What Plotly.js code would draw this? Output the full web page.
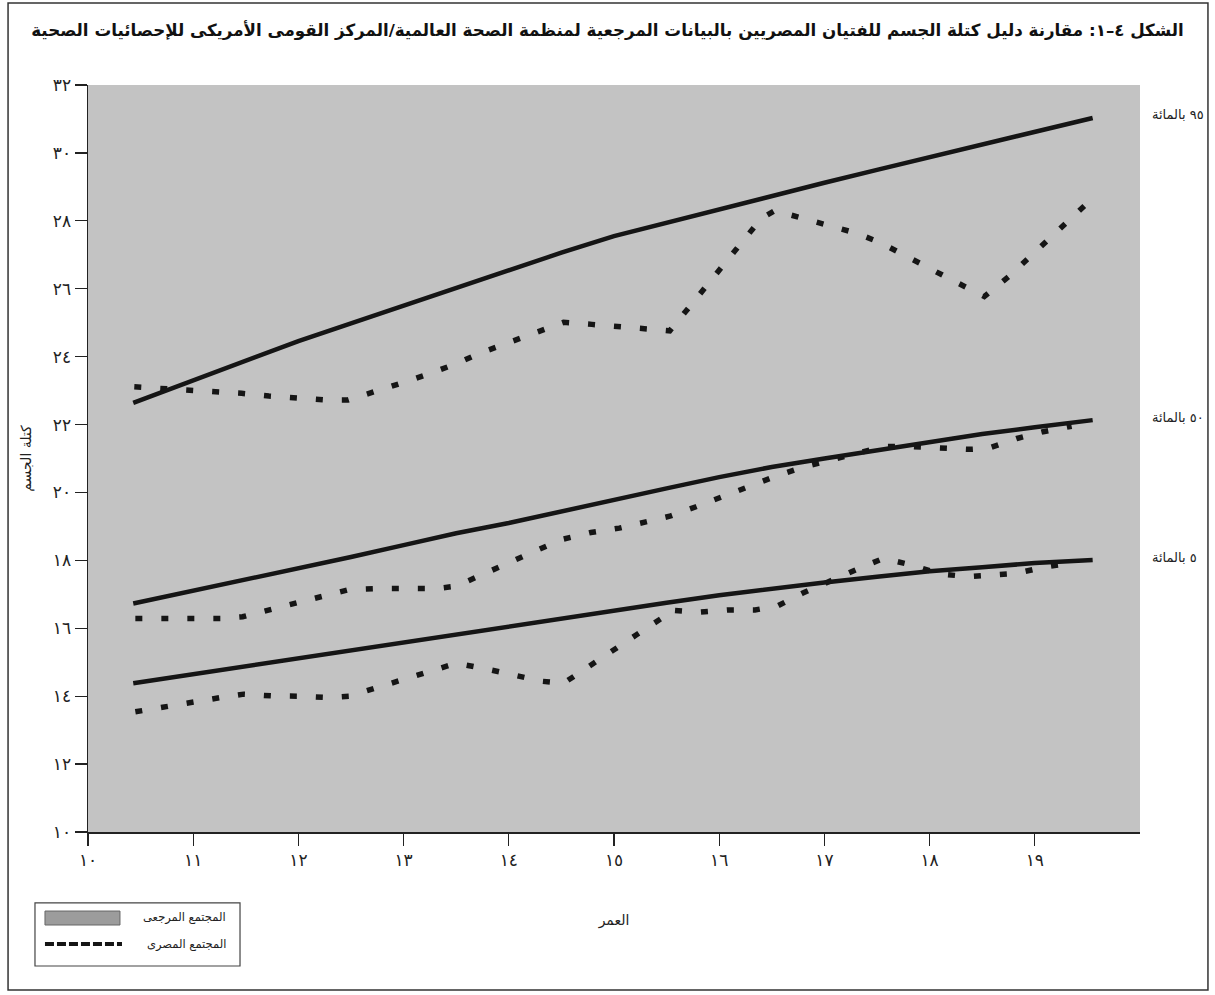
<!DOCTYPE html>
<html>
<head>
<meta charset="utf-8">
<script src="https://cdn.plot.ly/plotly-3.0.1.min.js"></script>
<style>html,body{margin:0;padding:0;background:#fff;}#chart{width:1215px;height:995px;}</style>
</head>
<body>
<div id="chart"></div>
<script>
// ---- data ----
const refAges = [10.43, 11, 11.5, 12, 12.5, 13, 13.5, 14, 14.5, 15, 15.5, 16, 16.5, 17, 17.5, 18, 18.5, 19, 19.55];
const ref95 = [22.64, 23.3, 23.88, 24.46, 24.98, 25.5, 26.02, 26.55, 27.06, 27.55, 27.95, 28.35, 28.75, 29.12, 29.5, 29.88, 30.25, 30.62, 31.03];
const ref50 = [16.73, 17.1, 17.45, 17.78, 18.1, 18.45, 18.8, 19.1, 19.45, 19.8, 20.12, 20.45, 20.75, 21.0, 21.25, 21.5, 21.72, 21.92, 22.13];
const ref5  = [14.38, 14.65, 14.88, 15.12, 15.35, 15.58, 15.82, 16.05, 16.3, 16.52, 16.75, 16.97, 17.17, 17.35, 17.52, 17.68, 17.8, 17.92, 18.01];

const egy95Ages = [10.44, 10.98, 11.25, 11.46, 11.72, 11.99, 12.27, 12.47, 12.74, 13.0, 13.24, 13.49, 13.75, 14.0, 14.27, 14.52, 14.79, 15.07, 15.34, 15.53, 15.71, 15.88, 16.05, 16.24, 16.4, 16.53, 16.78, 17.04, 17.31, 17.53, 17.77, 18.03, 18.26, 18.52, 18.75, 18.95, 19.15, 19.35, 19.54];
const egy95 = [23.11, 23.02, 22.95, 22.92, 22.84, 22.77, 22.72, 22.72, 22.97, 23.24, 23.49, 23.78, 24.13, 24.42, 24.72, 25.01, 24.95, 24.88, 24.8, 24.76, 25.44, 26.08, 26.73, 27.41, 28.07, 28.3, 28.09, 27.88, 27.63, 27.36, 26.96, 26.55, 26.18, 25.77, 26.35, 26.93, 27.51, 28.1, 28.64];

const egy50Ages = [10.45, 10.73, 11.0, 11.27, 11.47, 11.73, 12.0, 12.27, 12.48, 12.76, 13.03, 13.31, 13.5, 13.75, 13.99, 14.24, 14.51, 14.78, 15.05, 15.32, 15.53, 15.78, 16.04, 16.29, 16.54, 16.8, 17.05, 17.3, 17.56, 17.83, 18.1, 18.38, 18.56, 18.83, 19.08, 19.35];
const egy50 = [16.29, 16.29, 16.29, 16.29, 16.34, 16.55, 16.76, 16.98, 17.14, 17.17, 17.17, 17.17, 17.24, 17.57, 17.91, 18.26, 18.62, 18.82, 18.95, 19.14, 19.3, 19.58, 19.89, 20.19, 20.48, 20.75, 20.95, 21.15, 21.35, 21.35, 21.32, 21.27, 21.3, 21.59, 21.79, 21.95];

const egy5Ages = [10.45, 10.73, 10.99, 11.26, 11.48, 11.74, 12.01, 12.29, 12.48, 12.75, 13.01, 13.27, 13.5, 13.79, 14.04, 14.31, 14.52, 14.74, 14.98, 15.21, 15.45, 15.51, 15.8, 16.08, 16.34, 16.55, 16.79, 17.05, 17.29, 17.56, 17.83, 18.1, 18.37, 18.83, 19.1, 19.3];
const egy5 = [13.54, 13.69, 13.84, 13.96, 14.06, 14.01, 14.0, 13.96, 14.0, 14.26, 14.52, 14.77, 14.97, 14.8, 14.64, 14.44, 14.38, 14.82, 15.33, 15.8, 16.29, 16.54, 16.47, 16.54, 16.54, 16.65, 17.03, 17.4, 17.71, 18.06, 17.86, 17.6, 17.52, 17.62, 17.81, 17.9];

const xTickVals = [10, 11, 12, 13, 14, 15, 16, 17, 18, 19];
const xTickText = ['١٠', '١١', '١٢', '١٣', '١٤', '١٥', '١٦', '١٧', '١٨', '١٩'];
const yTickVals = [10, 12, 14, 16, 18, 20, 22, 24, 26, 28, 30, 32];
const yTickText = ['١٠', '١٢', '١٤', '١٦', '١٨', '٢٠', '٢٢', '٢٤', '٢٦', '٢٨', '٣٠', '٣٢'];
const percentileLabels = ['٩٥ بالمائة', '٥٠ بالمائة', '٥ بالمائة'];
const legendNames = ['المجتمع المرجعى', 'المجتمع المصرى'];
const titleText = 'الشكل ٤–١: مقارنة دليل كتلة الجسم للفتيان المصريين بالبيانات المرجعية لمنظمة الصحة العالمية/المركز القومى الأمريكى للإحصائيات الصحية';
const xTitle = 'العمر';
const yTitle = 'كتلة الجسم';

const FONT = 'DejaVu Sans, Noto Sans, sans-serif';
const INK = '#151515';

const solid = {color: INK, width: 4.5};
const dotted = {color: INK, width: 5.5, dash: '7px,19px'};

const traces = [
  {x: egy95Ages, y: egy95, mode: 'lines', line: dotted, name: legendNames[1]},
  {x: egy50Ages, y: egy50, mode: 'lines', line: dotted, name: legendNames[1]},
  {x: egy5Ages, y: egy5, mode: 'lines', line: dotted, name: legendNames[1]},
  {x: refAges, y: ref95, mode: 'lines', line: solid, name: legendNames[0]},
  {x: refAges, y: ref50, mode: 'lines', line: solid, name: legendNames[0]},
  {x: refAges, y: ref5, mode: 'lines', line: solid, name: legendNames[0]}
];

const refSeries = [ref95, ref50, ref5];
const annotations = refSeries.map((s, i) => ({
  xref: 'paper', x: 1.0095, xanchor: 'left',
  yref: 'y', y: s[s.length - 1], yanchor: 'middle', yshift: 3,
  text: percentileLabels[i], showarrow: false,
  font: {family: FONT, size: 13, color: '#222'}
}));
// custom legend texts
annotations.push({xref: 'paper', x: 0.1331, xanchor: 'right', yref: 'paper', y: -0.1151, yanchor: 'middle',
  text: legendNames[0], showarrow: false, font: {family: FONT, size: 11.5, color: '#222'}});
annotations.push({xref: 'paper', x: 0.1331, xanchor: 'right', yref: 'paper', y: -0.150, yanchor: 'middle',
  text: legendNames[1], showarrow: false, font: {family: FONT, size: 11.5, color: '#222'}});

const shapes = [
  // outer frame
  {type: 'rect', xref: 'paper', yref: 'paper', x0: -0.076, x1: 1.0646, y0: -0.2115, y1: 1.1098,
   line: {color: '#333', width: 1.5}, fillcolor: 'rgba(0,0,0,0)', layer: 'below'},
  // legend box
  {type: 'rect', xref: 'paper', yref: 'paper', x0: -0.0504, x1: 0.1445, y0: -0.1794, y1: -0.095,
   line: {color: '#444', width: 1.2}, fillcolor: 'rgba(0,0,0,0)'},
  // legend swatch: reference (gray bar)
  {type: 'rect', xref: 'paper', yref: 'paper', x0: -0.0409, x1: 0.0304, y0: -0.1245, y1: -0.1058,
   line: {color: '#666', width: 1}, fillcolor: '#9c9c9c'},
  // legend swatch: Egyptian (dashed)
  {type: 'line', xref: 'paper', yref: 'paper', x0: -0.0409, x1: 0.0323, y0: -0.150, y1: -0.150,
   line: {color: INK, width: 4, dash: '9px,3px'}}
];

const layout = {
  width: 1215, height: 995,
  margin: {l: 88, r: 75, t: 85, b: 163},
  paper_bgcolor: '#ffffff',
  plot_bgcolor: '#c3c3c3',
  showlegend: false,
  font: {family: FONT, color: '#222'},
  title: {text: titleText, font: {family: FONT, size: 16.7, weight: 'bold', color: '#111'}, x: 0.5, xanchor: 'center', xref: 'container',
          y: 0.97, yanchor: 'middle', yref: 'container'},
  xaxis: {
    range: [10, 20], tickvals: xTickVals, ticktext: xTickText,
    ticks: 'outside', ticklen: 12, tickwidth: 1.2, tickcolor: '#222',
    showgrid: false, zeroline: false, showline: true, linecolor: '#222', linewidth: 2,
    tickfont: {family: FONT, size: 17, color: '#222'},
    title: {text: xTitle, font: {family: FONT, size: 14, color: '#222'}, standoff: 46},
    fixedrange: true
  },
  yaxis: {
    range: [10, 32], tickvals: yTickVals, ticktext: yTickText,
    ticks: 'outside', ticklen: 12, tickwidth: 1.2, tickcolor: '#222',
    showgrid: false, zeroline: false, showline: true, linecolor: '#222', linewidth: 1.5,
    tickfont: {family: FONT, size: 17, color: '#222'},
    title: {text: yTitle, font: {family: FONT, size: 14, color: '#222'}, standoff: 18},
    fixedrange: true
  },
  xaxis2: {overlaying: 'x', anchor: 'y', side: 'bottom', range: [10, 20], tickvals: xTickVals.concat([20]),
    ticks: 'inside', ticklen: 12, tickwidth: 1.2, tickcolor: '#222', showticklabels: false,
    showgrid: false, zeroline: false, showline: false},
  yaxis2: {overlaying: 'y', anchor: 'x', side: 'left', range: [10, 32], tickvals: yTickVals,
    ticks: 'inside', ticklen: 12, tickwidth: 1.2, tickcolor: '#222', showticklabels: false,
    showgrid: false, zeroline: false, showline: false},
  annotations: annotations,
  shapes: shapes
};

Plotly.newPlot('chart', traces, layout, {displayModeBar: false, staticPlot: true});
</script>
</body>
</html>
